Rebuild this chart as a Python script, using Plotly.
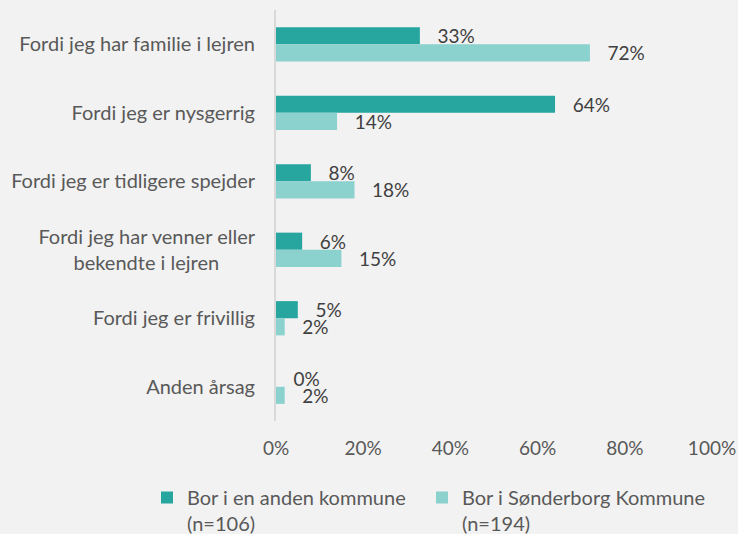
import plotly.graph_objects as go

NB = "\u00a0"
categories = [
    "Fordi jeg har familie i lejren",
    "Fordi jeg er nysgerrig",
    "Fordi jeg er tidligere spejder",
    "Fordi jeg har venner eller<br>bekendte i lejren" + NB * 7,
    "Fordi jeg er frivillig",
    "Anden årsag",
]
anden_kommune = [33, 64, 8, 6, 5, 0]
soenderborg = [72, 14, 18, 15, 2, 2]
series_names = ["Bor i en anden kommune<br>(n=106)", "Bor i Sønderborg Kommune<br>(n=194)"]
tick_vals = [0, 20, 40, 60, 80, 100]
tick_text = ["0%", "20%", "40%", "60%", "80%", "100%"]

FONT = "Lato, 'Open Sans', sans-serif"
fig = go.Figure()
for vals, name, color, leg in [
    (anden_kommune, series_names[0], "#26A69F", "legend"),
    (soenderborg, series_names[1], "#8BD1CE", "legend2"),
]:
    fig.add_trace(go.Bar(
        y=categories, x=vals, name=name, orientation="h", legend=leg,
        marker=dict(color=color, line=dict(width=0)),
        text=[f"{v}%" for v in vals],
        texttemplate="   %{text}", textposition="outside", cliponaxis=False,
        constraintext="none",
        textfont=dict(family=FONT, size=19, color="#404040"),
    ))

leg_common = dict(orientation="h", xref="container", yref="container", xanchor="left",
                  y=1 - 478 / 534, yanchor="top", valign="top",
                  bgcolor="rgba(0,0,0,0)", itemwidth=30,
                  font=dict(family=FONT, size=20, color="#595959"))

fig.update_layout(
    width=738, height=534,
    paper_bgcolor="#F2F2F2", plot_bgcolor="#F2F2F2",
    margin=dict(l=276, r=26, t=10, b=113),
    barmode="group", bargap=0.5, bargroupgap=0,
    font=dict(family=FONT, size=20, color="#595959"),
    showlegend=True,
    legend=dict(x=147 / 738, **leg_common),
    legend2=dict(x=422 / 738, **leg_common),
    xaxis=dict(range=[0, 100], tickvals=tick_vals, ticktext=tick_text, showgrid=False,
               zeroline=False, showline=False, ticks="", ticklabelstandoff=14,
               ticklabeloverflow="allow", automargin=False,
               tickfont=dict(family=FONT, size=19, color="#595959")),
    yaxis=dict(autorange="reversed", showgrid=False, zeroline=False, showline=True,
               linecolor="#D9D9D9", linewidth=2, ticks="", ticklabelstandoff=15,
               automargin=False,
               tickfont=dict(family=FONT, size=20, color="#595959")),
)

fig.write_html("out.html", config={"displayModeBar": False},
               post_script="document.body.style.margin='0';")
